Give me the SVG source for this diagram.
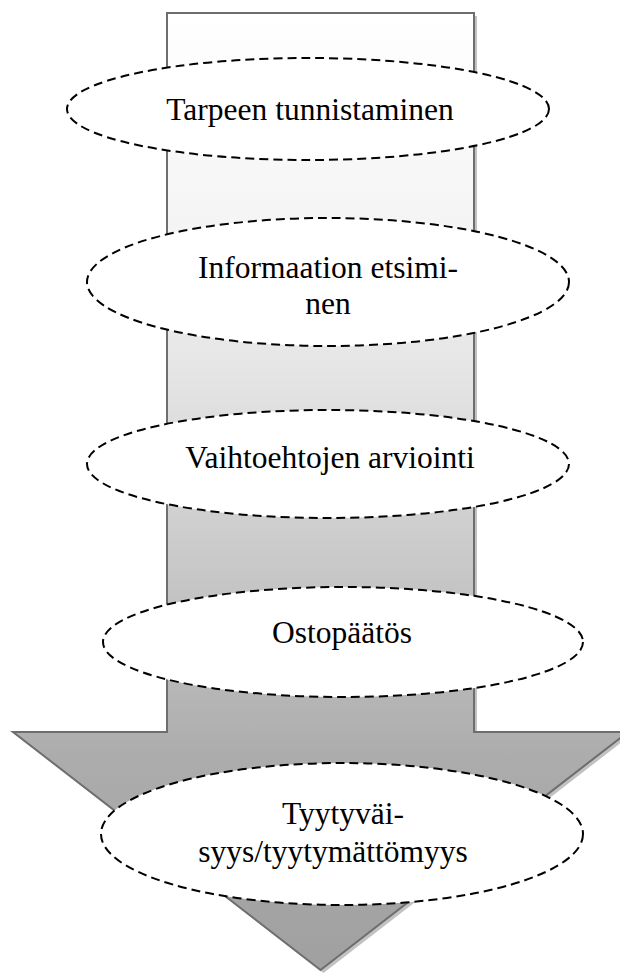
<svg xmlns="http://www.w3.org/2000/svg" width="620" height="974" viewBox="0 0 620 974">
  <defs>
    <linearGradient id="shaftFill" gradientUnits="userSpaceOnUse" x1="0" y1="13" x2="0" y2="970">
      <stop offset="0" stop-color="#ffffff"/>
      <stop offset="0.227" stop-color="#f4f4f4"/>
      <stop offset="0.383" stop-color="#e4e4e4"/>
      <stop offset="0.592" stop-color="#c6c6c6"/>
      <stop offset="0.78" stop-color="#acacac"/>
      <stop offset="1" stop-color="#a0a0a0"/>
    </linearGradient>
    <path id="arrowShape" d="M167,13 H474 V732 H628 L320.5,970 L13,732 H167 Z"/>
  </defs>
  <style>
    .stage ellipse { fill: #ffffff; stroke: #000000; stroke-width: 2; stroke-dasharray: 9 5; }
    .stage text { font-family: "Liberation Serif", "Times New Roman", serif; font-size: 31.5px; fill: #000000; text-anchor: middle; }
  </style>

  <!-- big downward arrow with drop shadow -->
  <g id="arrow">
    <use href="#arrowShape" transform="translate(3,3)" fill="#c2c2c2"/>
    <use href="#arrowShape" fill="url(#shaftFill)" stroke="#6e6e6e" stroke-width="2" stroke-linejoin="miter"/>
  </g>

  <g id="connectors"></g>

  <g id="stage1" class="stage">
    <ellipse cx="308" cy="109" rx="241" ry="51"/>
    <text x="310" y="120">Tarpeen tunnistaminen</text>
  </g>

  <g id="stage2" class="stage">
    <ellipse cx="328" cy="282" rx="241" ry="64"/>
    <text x="328" y="278">Informaation etsimi-</text>
    <text x="328" y="314">nen</text>
  </g>

  <g id="stage3" class="stage">
    <ellipse cx="328" cy="464" rx="241" ry="54"/>
    <text x="330" y="468">Vaihtoehtojen arviointi</text>
  </g>

  <g id="stage4" class="stage">
    <ellipse cx="343" cy="642" rx="240" ry="55"/>
    <text x="342" y="643">Ostopäätös</text>
  </g>

  <g id="stage5" class="stage">
    <ellipse cx="342" cy="834" rx="241" ry="71"/>
    <text x="343" y="824">Tyytyväi-</text>
    <text x="333" y="862">syys/tyytymättömyys</text>
  </g>
</svg>
